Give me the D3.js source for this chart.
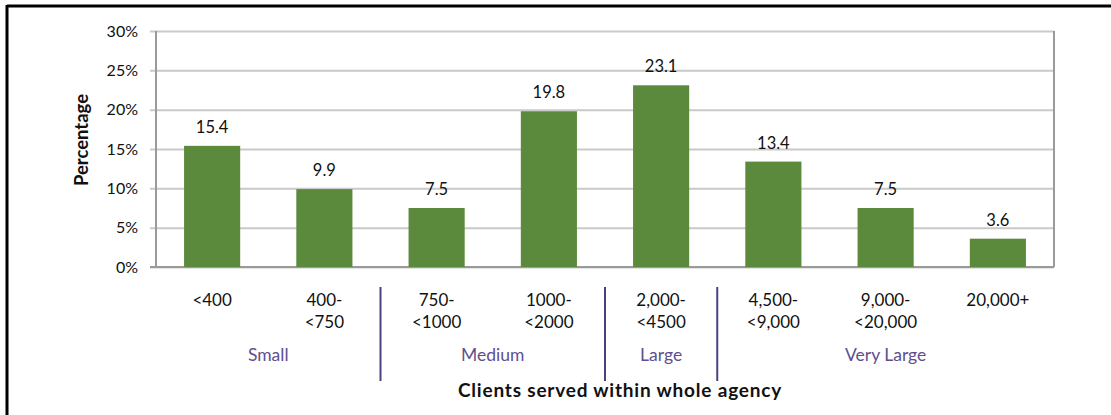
<!DOCTYPE html>
<html>
<head>
<meta charset="utf-8">
<script src="https://cdn.jsdelivr.net/npm/d3@7"></script>
<style>
  html, body { margin: 0; padding: 0; background: #fff; }
  svg { display: block; }
  text { font-family: Lato, "Open Sans", sans-serif; }
</style>
</head>
<body>
<svg id="chart" width="1111" height="415"></svg>
<script>
// Client-count bands (two-line labels) and their share of agencies
const categoryLine1 = ["<400", "400-", "750-", "1000-", "2,000-", "4,500-", "9,000-", "20,000+"];
const categoryLine2 = ["", "<750", "<1000", "<2000", "<4500", "<9,000", "<20,000", ""];
const percentages = [15.4, 9.9, 7.5, 19.8, 23.1, 13.4, 7.5, 3.6];
const yTicks = [0, 5, 10, 15, 20, 25, 30];

// Size groups: name and first/last category index
const groupNames = ["Small", "Medium", "Large", "Very Large"];
const groupStart = [0, 2, 4, 5];
const groupEnd = [1, 3, 4, 7];

const svg = d3.select("#chart");
const W = 1111, H = 415;
const plot = { left: 156, right: 1054, top: 31, bottom: 267 };

// Frame: thick black rules on the top and left edges
svg.append("line").attr("x1", 7).attr("x2", W).attr("y1", 6).attr("y2", 6)
  .attr("stroke", "#000").attr("stroke-width", 3);
svg.append("line").attr("x1", 7).attr("x2", 7).attr("y1", 5).attr("y2", H)
  .attr("stroke", "#000").attr("stroke-width", 3);

const x = d3.scaleBand()
  .domain(d3.range(percentages.length))
  .range([plot.left, plot.right])
  .paddingInner(0.5).paddingOuter(0.25);

const y = d3.scaleLinear().domain([0, 30]).range([plot.bottom, plot.top]);

// Gridlines with short outside ticks
const yAxis = d3.axisLeft(y)
  .tickValues(yTicks)
  .tickFormat(d => d + "%")
  .tickSize(-(plot.right - plot.left))
  .tickPadding(18);

const gy = svg.append("g").attr("transform", `translate(${plot.left},0)`).call(yAxis);
gy.select(".domain").remove();
gy.selectAll(".tick line")
  .attr("x1", -6)
  .attr("stroke", "#c9c9c9").attr("stroke-width", 2);
gy.selectAll(".tick text")
  .attr("font-size", 16).attr("fill", "#111");

// Plot-area left, bottom and right edges
svg.append("line").attr("x1", plot.left).attr("x2", plot.left)
  .attr("y1", plot.top).attr("y2", plot.bottom)
  .attr("stroke", "#9a9a9a").attr("stroke-width", 2);
svg.append("line").attr("x1", plot.right).attr("x2", plot.right)
  .attr("y1", plot.top).attr("y2", plot.bottom)
  .attr("stroke", "#9a9a9a").attr("stroke-width", 2);
svg.append("line").attr("x1", plot.left - 6).attr("x2", plot.right)
  .attr("y1", plot.bottom).attr("y2", plot.bottom)
  .attr("stroke", "#9a9a9a").attr("stroke-width", 2);

// Bars
svg.append("g").selectAll("rect")
  .data(percentages)
  .join("rect")
  .attr("x", (d, i) => x(i))
  .attr("width", x.bandwidth())
  .attr("y", d => y(d))
  .attr("height", d => y(0) - y(d))
  .attr("fill", "#5b8a3d");

// Value labels
svg.append("g").selectAll("text")
  .data(percentages)
  .join("text")
  .attr("x", (d, i) => x(i) + x.bandwidth() / 2)
  .attr("y", d => y(d) - 13)
  .attr("text-anchor", "middle")
  .attr("font-size", 16.5).attr("fill", "#111")
  .text(d => d.toFixed(1));

// Category labels (two lines)
const cat = svg.append("g");
cat.selectAll("text.l1")
  .data(categoryLine1)
  .join("text").attr("class", "l1")
  .attr("x", (d, i) => x(i) + x.bandwidth() / 2)
  .attr("y", 306)
  .attr("text-anchor", "middle")
  .attr("font-size", 17).attr("fill", "#111")
  .text(d => d);
cat.selectAll("text.l2")
  .data(categoryLine2)
  .join("text").attr("class", "l2")
  .attr("x", (d, i) => x(i) + x.bandwidth() / 2)
  .attr("y", 328)
  .attr("text-anchor", "middle")
  .attr("font-size", 17).attr("fill", "#111")
  .text(d => d);

// Group names centred under their categories
const step = x.step();
const center = i => x(i) + x.bandwidth() / 2;
svg.append("g").selectAll("text")
  .data(groupNames)
  .join("text")
  .attr("x", (d, i) => (center(groupStart[i]) + center(groupEnd[i])) / 2)
  .attr("y", 361)
  .attr("text-anchor", "middle")
  .attr("font-size", 17.5).attr("fill", "#5e4f8f")
  .text(d => d);

// Separators between groups
svg.append("g").selectAll("line")
  .data(groupStart.slice(1))
  .join("line")
  .attr("x1", d => x(d) - (step - x.bandwidth()) / 2)
  .attr("x2", d => x(d) - (step - x.bandwidth()) / 2)
  .attr("y1", 287).attr("y2", 381)
  .attr("stroke", "#4b4180").attr("stroke-width", 2);

// Axis titles
svg.append("text")
  .attr("x", 620)
  .attr("y", 397)
  .attr("text-anchor", "middle")
  .attr("font-size", 19).attr("font-weight", "bold").attr("fill", "#111")
  .attr("letter-spacing", 0.8)
  .text("Clients served within whole agency");

svg.append("text")
  .attr("transform", "translate(88,140) rotate(-90)")
  .attr("text-anchor", "middle")
  .attr("font-size", 18.5).attr("font-weight", "bold").attr("fill", "#111")
  .text("Percentage");
</script>
</body>
</html>
